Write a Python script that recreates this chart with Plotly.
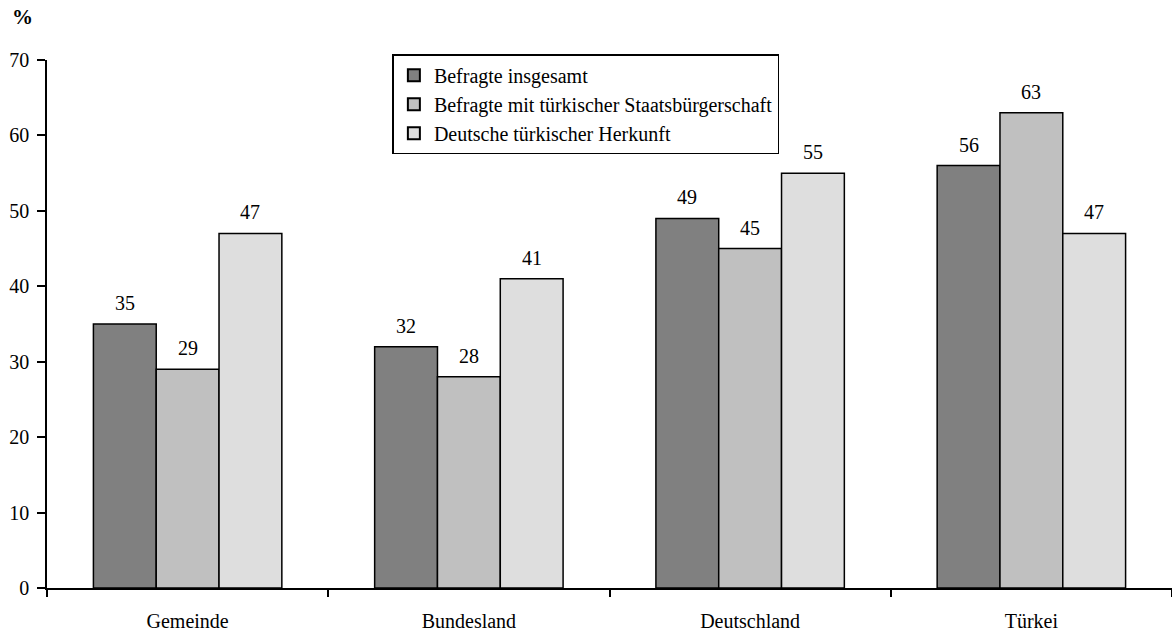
import plotly.graph_objects as go

categories = ["Gemeinde", "Bundesland", "Deutschland", "Türkei"]
series_names = [
    "Befragte insgesamt",
    "Befragte mit türkischer Staatsbürgerschaft",
    "Deutsche türkischer Herkunft",
]
insgesamt = [35, 32, 49, 56]
staatsbuerger = [29, 28, 45, 63]
deutsche = [47, 41, 55, 47]
colors = ["#808080", "#C0C0C0", "#DEDEDE"]
y_ticks = [0, 10, 20, 30, 40, 50, 60, 70]

FONT = "Times New Roman"
FS = 20

W, H = 1172, 631
ML, MR, MT, MB = 47, 0, 60, 43
BARGAP = 0.33

all_series = [insgesamt, staatsbuerger, deutsche]

fig = go.Figure()
for k, (name, vals, col) in enumerate(zip(series_names, all_series, colors)):
    fig.add_trace(go.Bar(
        x=categories, y=vals, name=name, legendgroup=f"g{k}",
        marker=dict(color=col, line=dict(color="black", width=1.5)),
    ))

# value labels placed above each bar (pixel offset of each bar inside its group)
cat_px = (W - ML - MR) / len(categories)
bar_px = cat_px * (1 - BARGAP) / len(all_series)
annotations = []
for k, vals in enumerate(all_series):
    for cat, v in zip(categories, vals):
        annotations.append(dict(
            x=cat, y=v, xref="x", yref="y", text=str(v), showarrow=False,
            xshift=(k - (len(all_series) - 1) / 2) * bar_px, yshift=21,
            xanchor="center", yanchor="middle",
            font=dict(family=FONT, size=FS, color="black"),
        ))
annotations.append(dict(
    text="<b>%</b>", xref="paper", yref="paper", x=-0.0222, y=1.081,
    xanchor="center", yanchor="middle",
    showarrow=False, font=dict(family=FONT, size=21, color="black"),
))

fig.update_layout(
    width=W, height=H,
    margin=dict(l=ML, r=MR, t=MT, b=MB),
    paper_bgcolor="white", plot_bgcolor="white",
    barmode="group", bargap=BARGAP, bargroupgap=0,
    font=dict(family=FONT, size=FS, color="black"),
    showlegend=True,
    legend=dict(
        x=0.307, y=1.011, xanchor="left", yanchor="top",
        bgcolor="white", bordercolor="black", borderwidth=1.5,
        font=dict(family=FONT, size=FS, color="black"),
        tracegroupgap=4, itemsizing="constant", itemwidth=30,
        traceorder="normal",
    ),
    xaxis=dict(
        showline=True, linecolor="black", linewidth=1.5,
        ticks="outside", ticklen=7, tickwidth=1.5, tickcolor="black",
        tickson="boundaries", showgrid=False, ticklabelstandoff=14,
        tickfont=dict(family=FONT, size=FS, color="black"),
    ),
    yaxis=dict(
        range=[0, 70], tickvals=y_ticks,
        showline=True, linecolor="black", linewidth=1.5,
        ticks="outside", ticklen=8, tickwidth=1.5, tickcolor="black",
        showgrid=False, zeroline=False, ticklabelstandoff=4,
        tickfont=dict(family=FONT, size=FS, color="black"),
    ),
    annotations=annotations,
)

fig.write_html(
    "out.html",
    config={"displayModeBar": False},
    post_script="document.body.style.margin='0';document.body.style.overflow='hidden';",
)
